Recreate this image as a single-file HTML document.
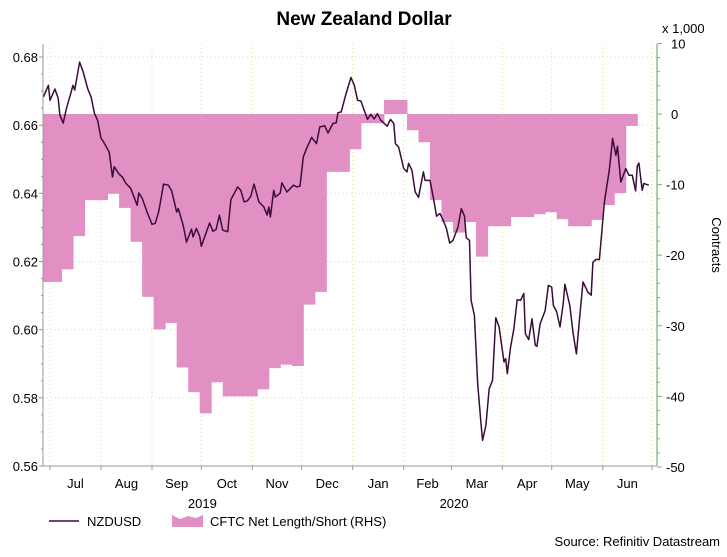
<!DOCTYPE html>
<html><head><meta charset="utf-8">
<style>
html,body{margin:0;padding:0;background:#fff;}
body{width:727px;height:552px;overflow:hidden;font-family:"Liberation Sans",Arial,sans-serif;}
svg text{font-family:"Liberation Sans",Arial,sans-serif;}
</style></head>
<body>
<svg id="chart" width="727" height="552" viewBox="0 0 727 552" xmlns="http://www.w3.org/2000/svg">
<text x="364" y="25" text-anchor="middle" font-size="19" font-weight="bold" fill="#000">New Zealand Dollar</text>
<text x="662" y="33" font-size="13" fill="#000">x 1,000</text>
<text transform="translate(712,245) rotate(90)" text-anchor="middle" font-size="13" fill="#000">Contracts</text>
<g id="grid"></g>
<g id="bars"></g>
<g id="line"></g>
<g id="axes"></g>
<g>
<line x1="49" y1="521" x2="79" y2="521" stroke="#3a0c3a" stroke-width="1.5"/>
<text x="87" y="526" font-size="13">NZDUSD</text>
<path d="M172,527 L172,515 L180,519 L188,516 L196,518 L203,515 L203,527 Z" fill="#e290c4"/>
<text x="210" y="526" font-size="13">CFTC Net Length/Short (RHS)</text>
</g>
<text x="720" y="546" text-anchor="end" font-size="13">Source: Refinitiv Datastream</text>
</svg>
<script>
// NZDUSD: day offsets from 1 Jul 2019, and rates
const lineDays = [-4,-1,0,3,5,6,8,10,12,14,15,18,20,23,25,27,29,31,33,36,38,39,42,44,46,49,53,54,56,59,62,64,66,67,69,72,74,77,78,81,83,86,87,89,91,92,94,97,99,101,103,105,108,110,113,114,116,118,120,122,124,127,130,132,133,134,136,137,140,141,144,148,150,152,154,156,159,162,164,167,169,172,174,175,177,180,183,185,187,189,191,193,195,197,199,201,205,207,209,210,212,215,217,218,220,222,224,227,228,231,233,235,237,239,241,243,245,248,250,252,253,255,256,258,260,262,263,265,267,269,271,273,276,277,278,280,282,284,286,288,289,291,293,295,296,298,301,303,305,306,308,310,312,313,316,318,320,322,324,327,329,330,332,334,337,340,342,344,345,347,350,352,354,356,357,358,360,361,364];
const lineRates = [0.6683,0.6717,0.6673,0.6706,0.6679,0.6629,0.6606,0.6650,0.6682,0.6717,0.6703,0.6785,0.6759,0.6706,0.6683,0.6635,0.6613,0.6562,0.6547,0.6521,0.6448,0.6478,0.6456,0.6448,0.6430,0.6415,0.6365,0.6401,0.6386,0.6345,0.6309,0.6312,0.6345,0.6371,0.6427,0.6424,0.6407,0.6345,0.6355,0.6306,0.6257,0.6295,0.6272,0.6297,0.6274,0.6245,0.6272,0.6313,0.6289,0.6294,0.6336,0.6292,0.6287,0.6382,0.6409,0.6419,0.6409,0.6375,0.6378,0.6391,0.6427,0.6375,0.6360,0.6336,0.6360,0.6331,0.6409,0.6389,0.6401,0.6431,0.6404,0.6424,0.6419,0.6421,0.6507,0.6532,0.6564,0.6546,0.6595,0.6598,0.6577,0.6605,0.6607,0.6636,0.6639,0.6693,0.6740,0.6717,0.6673,0.6671,0.6644,0.6617,0.6632,0.6618,0.6634,0.6615,0.6597,0.6617,0.6605,0.6546,0.6535,0.6473,0.6463,0.6488,0.6468,0.6404,0.6388,0.6463,0.6438,0.6438,0.6388,0.6333,0.6341,0.6321,0.6297,0.6254,0.6262,0.6301,0.6355,0.6333,0.6270,0.6262,0.6086,0.6042,0.5841,0.5724,0.5675,0.5719,0.5827,0.5851,0.6035,0.6008,0.5905,0.5915,0.5871,0.5949,0.6003,0.6088,0.6086,0.6106,0.5988,0.5971,0.6032,0.5954,0.5951,0.6018,0.6055,0.6130,0.6125,0.6071,0.6052,0.6008,0.6076,0.6133,0.6071,0.5990,0.5929,0.6037,0.6140,0.6110,0.6101,0.6198,0.6206,0.6206,0.6375,0.6468,0.6561,0.6512,0.6538,0.6433,0.6473,0.6453,0.6453,0.6407,0.6480,0.6489,0.6409,0.6429,0.6424];
// CFTC weekly net position (thousands), weeks starting 24 Jun 2019
const cftcValues = [-23.8,-23.8,-22,-17.3,-12.2,-12.2,-11.3,-13.3,-18.1,-25.9,-30.5,-29.6,-35.9,-39.4,-42.4,-38,-40,-40,-40,-39,-36,-35.5,-35.7,-27,-25.2,-8.2,-8.2,-5,-1.3,-1.3,2,2,-2.3,-4,-12.2,-15.3,-16.8,-15.3,-20.2,-15.9,-15.9,-14.6,-14.6,-14.2,-13.9,-14.9,-15.9,-15.9,-15,-12.9,-11.2,-1.7];
const cftcStartDay = -7;
const leftTicks = [0.56,0.58,0.60,0.62,0.64,0.66,0.68];
const rightTicks = [-50,-40,-30,-20,-10,0,10];
const monthLabels = ["Jul","Aug","Sep","Oct","Nov","Dec","Jan","Feb","Mar","Apr","May","Jun"];
const monthStarts = [0,31,62,92,123,153,184,215,244,275,305,336,366];
const yearLabels = ["2019","2020"];
const yearCenterDays = [92,245];

const NS="http://www.w3.org/2000/svg";
const PL=43, PR=657, PT=44, PB=466;
function xDay(d){return 50 + d*1.645;}
function yL(v){return 466 - (v-0.56)/0.12*409;}
function yR(v){return 114 - v*7.06;}
function mk(tag,attrs,parent){const e=document.createElementNS(NS,tag);for(const k in attrs)e.setAttribute(k,attrs[k]);parent.appendChild(e);return e;}

const grid=document.getElementById('grid');
leftTicks.forEach(t=>{
  const g=mk('line',{x1:PL,x2:PR,y1:yL(t),y2:yL(t),stroke:'#e6dca0','stroke-dasharray':'1,3','stroke-width':1},grid);
  
  
});
monthStarts.forEach(d=>{
  const g=mk('line',{x1:xDay(d),x2:xDay(d),y1:PT,y2:PB,stroke:'#e6dca0','stroke-dasharray':'1,3','stroke-width':1},grid);
  
  
});

const bars=document.getElementById('bars');
cftcValues.forEach((v,i)=>{
  let x0=xDay(cftcStartDay+7*i), x1=xDay(cftcStartDay+7*(i+1));
  x0=Math.max(x0,PL); x1=Math.min(x1,PR);
  const y0=yR(0), y1=yR(v);
  const r=mk('rect',{x:x0,y:Math.min(y0,y1),width:x1-x0+0.5,height:Math.abs(y1-y0),fill:'#e290c4'},bars);
  
  
});

const lg=document.getElementById('line');
let dstr='';
lineDays.forEach((d,i)=>{dstr+=(i?'L':'M')+Math.max(xDay(d),PL).toFixed(1)+','+yL(lineRates[i]).toFixed(1);});
const p=mk('path',{d:dstr,fill:'none',stroke:'#3a0c3a','stroke-width':1.5,'stroke-linejoin':'round'},lg);



const ax=document.getElementById('axes');
mk('line',{x1:PL,x2:PL,y1:PT,y2:PB,stroke:'#999','stroke-width':1},ax);
mk('line',{x1:PL,x2:PR,y1:PB,y2:PB,stroke:'#999','stroke-width':1},ax);
mk('line',{x1:PR,x2:PR,y1:PT,y2:PB,stroke:'#9ab89a','stroke-width':1.5},ax);
for(let v=0.56;v<=0.6801;v+=0.005){mk('line',{x1:PL-(Math.abs((v*100)%2)<0.01||Math.abs((v*100)%2-2)<0.01?4:2),x2:PL,y1:yL(v),y2:yL(v),stroke:'#999'},ax);}
for(let v=-50;v<=10;v+=2){mk('line',{x1:PR,x2:PR+(v%10===0?5:3),y1:yR(v),y2:yR(v),stroke:'#8a8'},ax);}
leftTicks.forEach(t=>{
  const e=mk('text',{x:38,y:yL(t)+5,'text-anchor':'end','font-size':13},ax);
  e.textContent=t.toFixed(2);
  
  
});
rightTicks.forEach(t=>{
  const e=mk('text',{x:t<0?666:671,y:yR(t)+5,'font-size':13},ax);
  e.textContent=String(t);
  
  
});
monthStarts.forEach(d=>{mk('line',{x1:xDay(d),x2:xDay(d),y1:PB,y2:PB+4,stroke:'#999'},ax);});
monthLabels.forEach((m,i)=>{
  const e=mk('text',{x:(xDay(monthStarts[i])+xDay(monthStarts[i+1]))/2,y:488,'text-anchor':'middle','font-size':13},ax);
  e.textContent=m;
  
  
});
yearLabels.forEach((yv,i)=>{
  const e=mk('text',{x:xDay(yearCenterDays[i])+1,y:508,'text-anchor':'middle','font-size':13},ax);
  e.textContent=yv;
  
  
});
</script>
</body></html>
